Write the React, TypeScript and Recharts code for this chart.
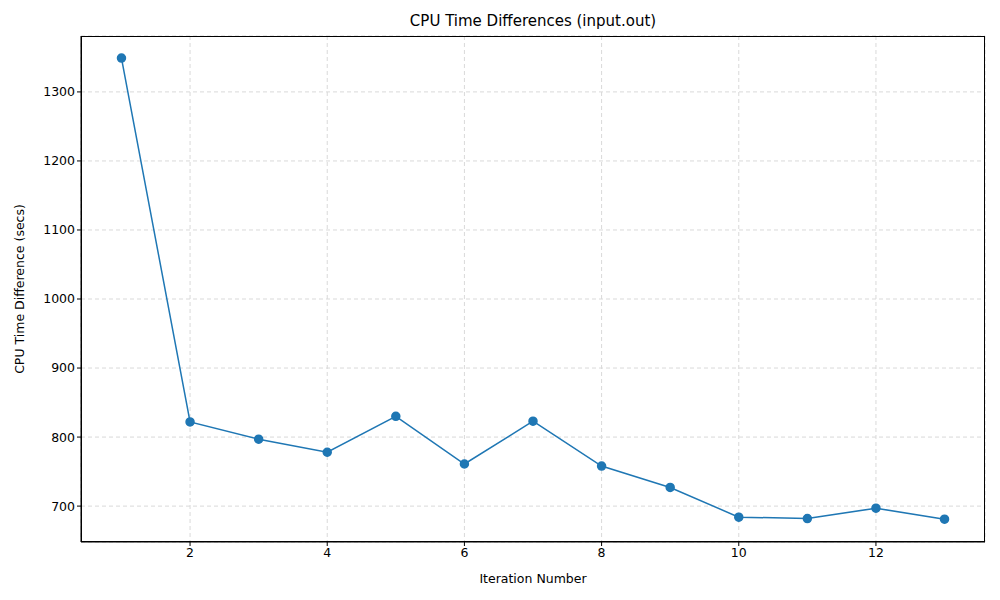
import React from 'react';
import { LineChart, Line, XAxis, YAxis, CartesianGrid } from 'recharts';

const iterations = [1, 2, 3, 4, 5, 6, 7, 8, 9, 10, 11, 12, 13];
const cpuDiffs = [1349, 822, 797, 778, 830, 761, 823, 758, 727, 684, 682, 697, 681];
const xTicks = [2, 4, 6, 8, 10, 12];
const yTicks = [700, 800, 900, 1000, 1100, 1200, 1300];

const data = iterations.map((it, i) => ({ it, v: cpuDiffs[i] }));
const font = 'DejaVu Sans, sans-serif';

export default function App() {
  return (
    <div style={{ position: 'absolute', left: 0, top: 0, width: 1000, height: 600, background: '#fff', fontFamily: font }}>
      <LineChart width={1000} height={600} data={data} margin={{ top: 36, right: 15, left: 0, bottom: 0 }}>
        <CartesianGrid stroke="#d9d9d9" strokeDasharray="4 3" />
        <XAxis dataKey="it" type="number" domain={[0.41, 13.59]} ticks={xTicks} height={58}
          tick={{ fill: '#000', fontSize: 12.5, fontFamily: font }} tickLine={{ stroke: '#000' }} axisLine={{ stroke: '#000' }}
          tickSize={4}
          label={{ value: 'Iteration Number', position: 'insideBottom', offset: 17, fill: '#000', fontSize: 12.5, fontFamily: font }} />
        <YAxis type="number" domain={[648, 1381]} ticks={yTicks} width={81}
          tick={{ fill: '#000', fontSize: 12.5, fontFamily: font }} tickLine={{ stroke: '#000' }} axisLine={{ stroke: '#000' }}
          tickSize={4}
          label={{ value: 'CPU Time Difference (secs)', angle: -90, position: 'insideLeft', offset: 20, style: { textAnchor: 'middle' }, fill: '#000', fontSize: 12.5, fontFamily: font }} />
        <Line dataKey="v" stroke="#1f77b4" strokeWidth={1.5} isAnimationActive={false}
          dot={{ r: 4, fill: '#1f77b4', stroke: '#1f77b4' }} activeDot={false} />
      </LineChart>
      <div style={{ position: 'absolute', left: 81, top: 36, width: 904, height: 506, border: '1px solid #000', boxSizing: 'border-box', pointerEvents: 'none' }} />
      <div style={{ position: 'absolute', left: 81, width: 904, top: 12, textAlign: 'center', fontSize: 15 }}>CPU Time Differences (input.out)</div>
    </div>
  );
}
